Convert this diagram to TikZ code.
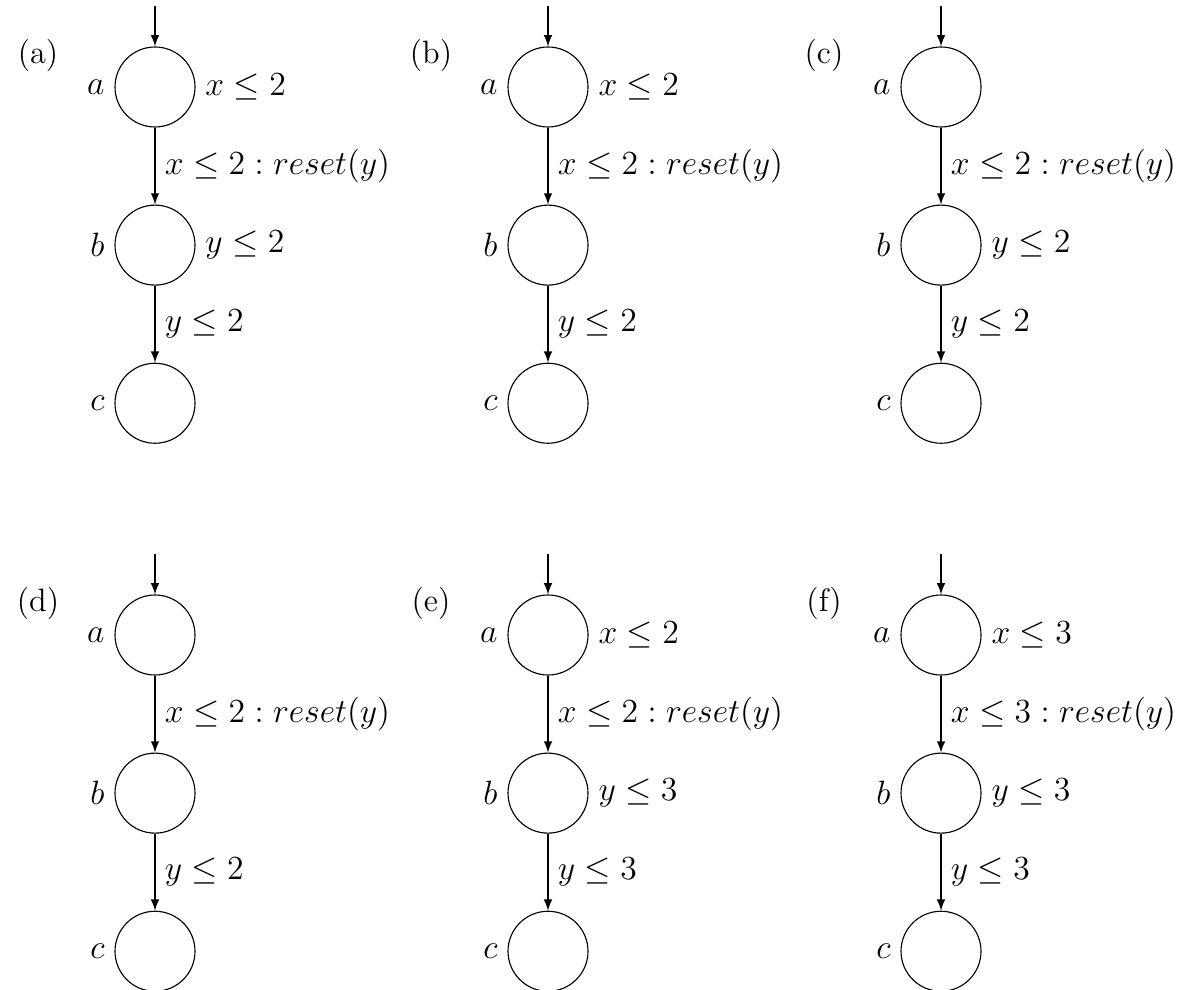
\documentclass[tikz,border=0pt]{standalone}
\usepackage{amsmath,amssymb}
\usetikzlibrary{positioning}

\tikzset{
  state/.style={circle,draw,minimum size=1cm,inner sep=0pt},
  tag/.style={inner sep=0pt}
}

\begin{document}
\begin{tikzpicture}[x=1cm,y=1cm,>=latex,node distance=0.9625cm,
    font=\fontsize{11.5}{14}\selectfont]

% 画布大小
\useasboundingbox (0,0) rectangle (14.85,-12.3625);

% 六个小自动机：编号/圆心x/圆心y/a的不变式/第一条边的常数/b的不变式/第二条边的常数
\foreach \n/\cx/\cy/\ia/\ka/\ib/\kb in {
    a/1.9375/-1.0875/{$x \leq 2$}/2/{$y \leq 2$}/2,
    b/6.85/-1.0875/{$x \leq 2$}/2/{}/2,
    c/11.7625/-1.0875/{}/2/{$y \leq 2$}/2,
    d/1.9375/-7.9375/{}/2/{}/2,
    e/6.85/-7.9375/{$x \leq 2$}/2/{$y \leq 3$}/3,
    f/11.7625/-7.9375/{$x \leq 3$}/3/{$y \leq 3$}/3}
{
  % 状态
  \node[state,label=left:$a$,label=right:\ia] (a-\n) at (\cx,\cy) {};
  \node[state,below=of a-\n,label=left:$b$,label=right:\ib] (b-\n) {};
  \node[state,below=of b-\n,label=left:$c$] (c-\n) {};

  % 小标题
  \node[tag] (t-\n) at ([xshift=-1.4625cm,yshift=0.4cm]a-\n.center) {(\n)};

  % 初始箭头
  \coordinate (s-\n) at ([yshift=0.5cm]a-\n.north);
  \draw[->] (s-\n) -- (a-\n);

  % 迁移
  \draw[->] (a-\n) -- node[right] {$x \leq \ka : reset(y)$} (b-\n);
  \draw[->] (b-\n) -- node[right] {$y \leq \kb$} (c-\n);
}

\end{tikzpicture}
\end{document}
